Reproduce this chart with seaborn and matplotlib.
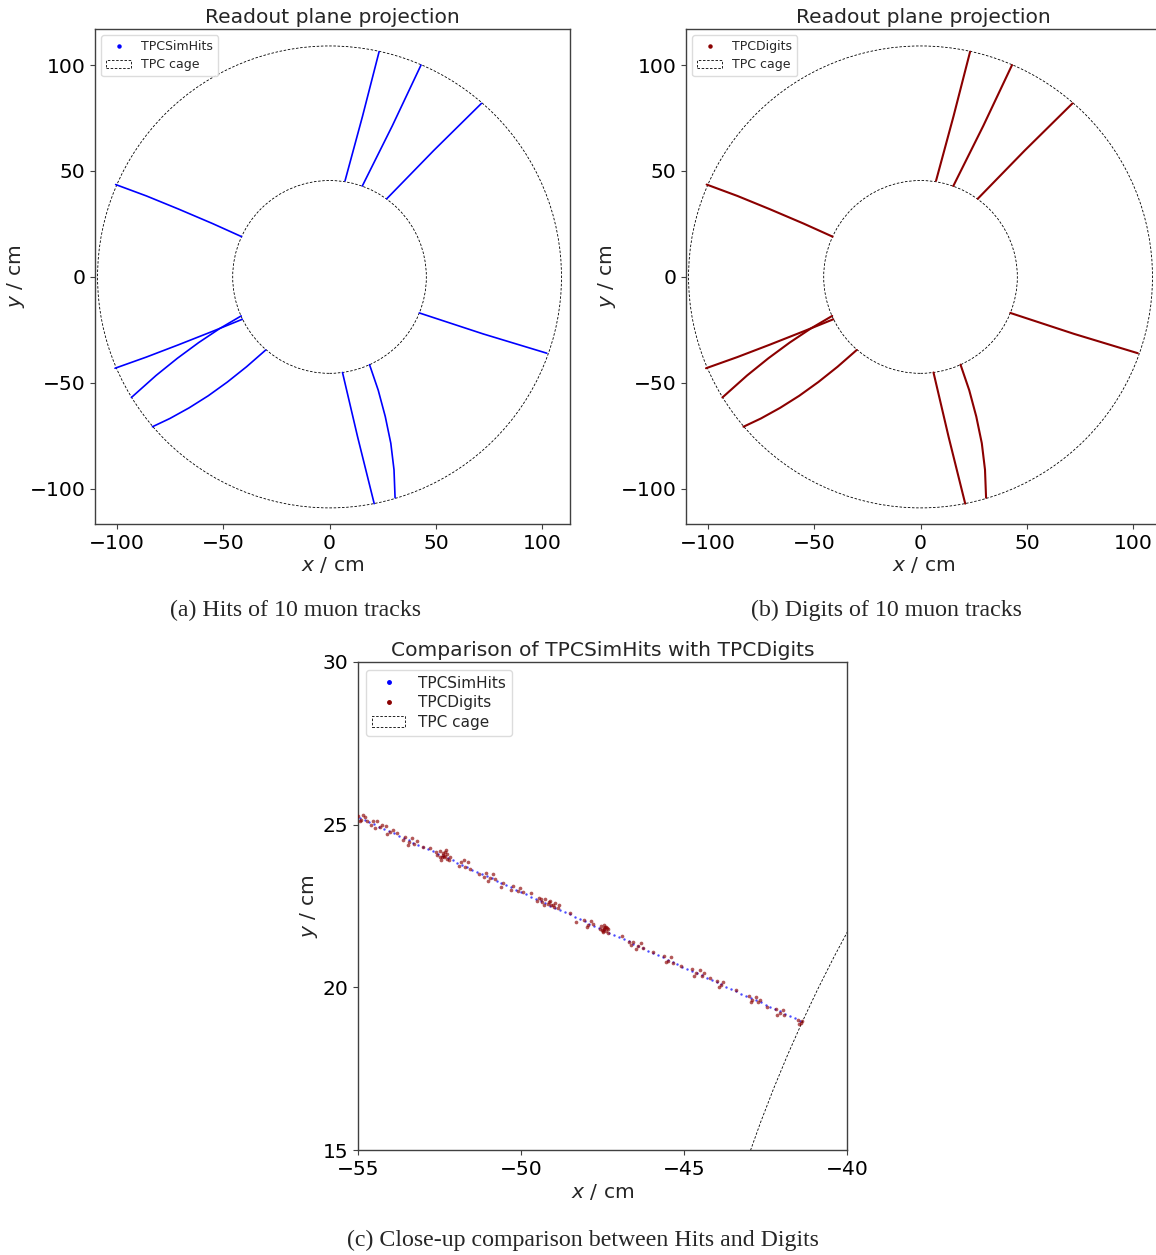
import matplotlib
matplotlib.use("Agg")
import matplotlib.pyplot as plt
from matplotlib.patches import Circle
from matplotlib.lines import Line2D
import pandas as pd
import seaborn as sns

# TPC field cage radii in the readout plane (cm)
cage_radii = [45.5, 109.0]

# Ten muon tracks, points ordered from the inner to the outer cage (cm)
tracks_x = [
    [7.3, 15.5, 23.3],
    [15.4, 29.5, 43.0],
    [26.9, 49.0, 71.4],
    [-41.3, -55.0, -70.9, -86.0, -100.5],
    [42.2, 72.2, 102.1],
    [-41.0, -55.0, -70.9, -86.0, -100.8],
    [-41.5, -51.5, -61.5, -71.5, -81.5, -93.1],
    [-30.0, -39.0, -48.0, -57.0, -66.0, -75.0, -83.2],
    [6.1, 13.2, 21.0],
    [18.8, 22.9, 26.2, 28.8, 30.3, 30.8],
]
tracks_y = [
    [45.4, 75.8, 106.3],
    [42.9, 71.3, 100.0],
    [36.9, 59.7, 81.9],
    [19.0, 25.2, 32.0, 38.2, 43.6],
    [-17.0, -26.9, -36.0],
    [-20.0, -25.7, -32.0, -37.8, -43.1],
    [-18.4, -24.3, -31.0, -38.4, -46.5, -56.9],
    [-34.5, -42.4, -49.6, -56.1, -61.8, -66.8, -70.7],
    [-45.1, -75.5, -107.0],
    [-41.4, -53.5, -65.9, -78.5, -91.0, -104.2],
]

# Close-up of one track: simulated hits (cm)
hits_x = [-54.95, -54.80, -54.65, -54.50, -54.35, -54.20, -54.05, -53.90, -53.75, -53.60,
          -53.45, -53.30, -53.15, -53.00, -52.85, -52.70, -52.55, -52.40, -52.25, -52.10,
          -51.95, -51.80, -51.65, -51.50, -51.35, -51.20, -51.05, -50.90, -50.75, -50.60,
          -50.45, -50.30, -50.15, -50.00, -49.85, -49.70, -49.55, -49.40, -49.25, -49.10,
          -48.95, -48.80, -48.65, -48.50, -48.35, -48.20, -48.05, -47.90, -47.75, -47.60,
          -47.45, -47.30, -47.15, -47.00, -46.85, -46.70, -46.55, -46.40, -46.25, -46.10,
          -45.95, -45.80, -45.65, -45.50, -45.35, -45.20, -45.05, -44.90, -44.75, -44.60,
          -44.45, -44.30, -44.15, -44.00, -43.85, -43.70, -43.55, -43.40, -43.25, -43.10,
          -42.95, -42.80, -42.65, -42.50, -42.35, -42.20, -42.05, -41.90, -41.75, -41.60,
          -41.45]
hits_y = [25.22, 25.15, 25.08, 25.01, 24.94, 24.87, 24.80, 24.73, 24.66, 24.59,
          24.52, 24.45, 24.39, 24.32, 24.25, 24.18, 24.11, 24.04, 23.97, 23.90,
          23.83, 23.76, 23.69, 23.62, 23.55, 23.48, 23.42, 23.35, 23.28, 23.21,
          23.14, 23.07, 23.00, 22.93, 22.86, 22.79, 22.72, 22.65, 22.58, 22.51,
          22.45, 22.38, 22.31, 22.24, 22.17, 22.10, 22.03, 21.96, 21.89, 21.82,
          21.75, 21.68, 21.61, 21.54, 21.48, 21.41, 21.34, 21.27, 21.20, 21.13,
          21.06, 20.99, 20.92, 20.85, 20.78, 20.71, 20.64, 20.57, 20.51, 20.44,
          20.37, 20.30, 20.23, 20.16, 20.09, 20.02, 19.95, 19.88, 19.81, 19.74,
          19.67, 19.60, 19.54, 19.47, 19.40, 19.33, 19.26, 19.19, 19.12, 19.05,
          18.98]

# Close-up of the same track: digitised charge positions (x, y) in cm
digits_xy = [
    (-55.00, 25.28), (-54.90, 25.14), (-54.80, 25.24), (-54.95, 25.10), (-54.72, 25.12), (-54.84, 25.30),
    (-54.55, 25.10), (-54.42, 25.12), (-54.33, 24.94), (-54.48, 24.90), (-54.25, 25.00), (-54.60, 24.98),
    (-54.15, 24.95), (-54.02, 24.76), (-53.92, 24.85), (-54.10, 24.72),
    (-53.55, 24.62), (-53.44, 24.48), (-53.34, 24.60), (-53.28, 24.40), (-53.48, 24.38), (-53.20, 24.50),
    (-53.62, 24.52),
    (-52.50, 24.18), (-52.42, 24.02), (-52.33, 24.16), (-52.28, 23.96), (-52.45, 23.92), (-52.58, 24.08),
    (-52.30, 24.22), (-52.18, 24.02), (-52.38, 24.08), (-52.36, 24.00), (-52.22, 23.92), (-52.62, 24.16),
    (-52.40, 24.12), (-52.34, 24.05), (-52.48, 24.00), (-52.26, 24.10),
    (-51.85, 23.86), (-51.72, 23.70), (-51.62, 23.84), (-51.55, 23.64), (-51.90, 23.74), (-51.75, 23.90),
    (-51.08, 23.50), (-50.94, 23.36), (-50.85, 23.48), (-51.00, 23.28), (-50.80, 23.32), (-51.12, 23.38),
    (-50.25, 23.10), (-50.10, 22.96), (-50.02, 23.06), (-50.30, 22.98), (-49.95, 22.92),
    (-49.45, 22.76), (-49.35, 22.62), (-49.25, 22.72), (-49.18, 22.56), (-49.10, 22.66), (-49.02, 22.52),
    (-48.95, 22.60), (-48.88, 22.44), (-49.28, 22.52), (-48.82, 22.52), (-49.50, 22.66), (-49.15, 22.62),
    (-49.08, 22.54), (-48.98, 22.48), (-49.38, 22.70),
    (-48.08, 22.06), (-47.94, 21.92), (-47.85, 22.04), (-47.98, 21.86), (-47.78, 21.94),
    (-47.55, 21.88), (-47.45, 21.78), (-47.38, 21.86), (-47.50, 21.70), (-47.40, 21.72), (-47.58, 21.80),
    (-47.34, 21.78), (-47.46, 21.92), (-47.44, 21.82), (-47.32, 21.68), (-47.52, 21.76), (-47.42, 21.84),
    (-47.48, 21.74), (-47.36, 21.82),
    (-46.56, 21.40), (-46.42, 21.26), (-46.32, 21.36), (-46.25, 21.20), (-46.48, 21.18), (-46.62, 21.30),
    (-45.62, 20.96), (-45.48, 20.82), (-45.40, 20.92), (-45.34, 20.76), (-45.55, 20.78),
    (-44.75, 20.56), (-44.62, 20.44), (-44.52, 20.52), (-44.46, 20.36), (-44.68, 20.36), (-44.40, 20.44),
    (-44.00, 20.20), (-43.88, 20.08), (-43.80, 20.16), (-43.92, 20.02),
    (-43.02, 19.72), (-42.90, 19.60), (-42.80, 19.70), (-42.74, 19.54), (-42.96, 19.54), (-42.66, 19.62),
    (-42.18, 19.34), (-42.06, 19.22), (-41.96, 19.30), (-41.92, 19.14), (-42.14, 19.16),
    (-41.50, 19.00), (-41.42, 18.90), (-41.38, 18.98), (-41.46, 18.88),
    (-53.80, 24.74), (-53.00, 24.30), (-52.80, 24.28), (-51.30, 23.48), (-50.55, 23.22), (-49.70, 22.90),
    (-48.50, 22.30), (-46.90, 21.58), (-45.95, 21.10), (-45.10, 20.66), (-44.20, 20.30), (-43.40, 19.92),
    (-42.45, 19.40), (-50.60, 23.08), (-48.30, 22.02), (-46.70, 21.40),
]

full_ticks = [-100, -50, 0, 50, 100]
zoom_xticks = [-55, -50, -45, -40]
zoom_yticks = [15, 20, 25, 30]

sns.set_theme(style="ticks", rc={
    "axes.edgecolor": "0.25",
    "axes.linewidth": 1.0,
    "xtick.color": "0.25",
    "ytick.color": "0.25",
    "xtick.labelcolor": "black",
    "ytick.labelcolor": "black",
    "mathtext.fontset": "dejavusans",
})
plt.rcParams["font.family"] = ["DejaVu Sans"]

FS = 14.6

track_rows = []
for i, (xs, ys) in enumerate(zip(tracks_x, tracks_y)):
    for x, y in zip(xs, ys):
        track_rows.append({"track": i, "x": x, "y": y})
tracks = pd.DataFrame(track_rows)
digits = pd.DataFrame(digits_xy, columns=["x", "y"])

W, H = 1156, 1255
fig = plt.figure(figsize=(W / 100, H / 100), dpi=100)


def frac(left, top, right, bottom):
    return [left / W, 1 - bottom / H, (right - left) / W, (bottom - top) / H]


def add_cage(ax):
    handle = None
    for k, r in enumerate(cage_radii):
        c = Circle((0, 0), r, fill=False, ec="black", lw=0.6,
                   ls=(0, (3, 2)), zorder=1,
                   label="TPC cage" if k == 0 else None)
        ax.add_patch(c)
        if k == 0:
            handle = c
    return handle


def style_axes(ax, title):
    ax.tick_params(labelsize=FS, length=3.5, width=0.8)
    ax.set_xlabel("$x$ / cm", fontsize=FS, labelpad=2)
    ax.set_ylabel("$y$ / cm", fontsize=FS, labelpad=2)
    ax.set_title(title, fontsize=FS, pad=4)


def readout_panel(rect, color, name, lw):
    ax = fig.add_axes(rect)
    cage = add_cage(ax)
    sns.lineplot(data=tracks, x="x", y="y", units="track", estimator=None,
                 sort=False, color=color, lw=lw, ax=ax, legend=False, zorder=3)
    ax.set_xlim(-110.2, 113.0)
    ax.set_ylim(-116.6, 117.0)
    ax.set_xticks(full_ticks)
    ax.set_yticks(full_ticks)
    style_axes(ax, "Readout plane projection")
    dot = Line2D([], [], ls="none", marker="o", ms=2.2, color=color, label=name)
    ax.legend(handles=[dot, cage], loc="upper left", fontsize=9,
              handlelength=2.0, borderpad=0.4, labelspacing=0.4,
              handletextpad=0.8, framealpha=0.9, edgecolor="0.85")
    return ax


readout_panel(frac(95, 29, 570, 524), "blue", "TPCSimHits", 1.2)
readout_panel(frac(686, 29, 1161, 524), "darkred", "TPCDigits", 1.5)

# Close-up comparison
axc = fig.add_axes(frac(358, 662, 847, 1150))
cage_c = add_cage(axc)
sns.scatterplot(x=hits_x, y=hits_y, color="blue", s=3, linewidth=0,
                alpha=0.7, ax=axc, zorder=3)
sns.scatterplot(data=digits, x="x", y="y", color="darkred", s=7, linewidth=0,
                alpha=0.65, ax=axc, zorder=4)
axc.set_xlim(-55, -40)
axc.set_ylim(15, 30)
axc.set_xticks(zoom_xticks)
axc.set_yticks(zoom_yticks)
style_axes(axc, "Comparison of TPCSimHits with TPCDigits")
h_dot = Line2D([], [], ls="none", marker="o", ms=2.5, color="blue", label="TPCSimHits")
d_dot = Line2D([], [], ls="none", marker="o", ms=2.5, color="darkred", label="TPCDigits")
axc.legend(handles=[h_dot, d_dot, cage_c], loc="upper left", fontsize=11,
           handlelength=2.2, borderpad=0.4, labelspacing=0.3,
           handletextpad=0.8, framealpha=0.9, edgecolor="0.85")

# Sub-figure captions
cap = dict(family=["Liberation Serif", "DejaVu Serif"], fontsize=17.2,
           ha="center", va="center")
fig.text(296 / W, 1 - 610 / H, "(a) Hits of 10 muon tracks", **cap)
fig.text(886 / W, 1 - 610 / H, "(b) Digits of 10 muon tracks", **cap)
fig.text(583 / W, 1 - 1240 / H, "(c) Close-up comparison between Hits and Digits", **cap)

fig.savefig("out.png", dpi=100)
